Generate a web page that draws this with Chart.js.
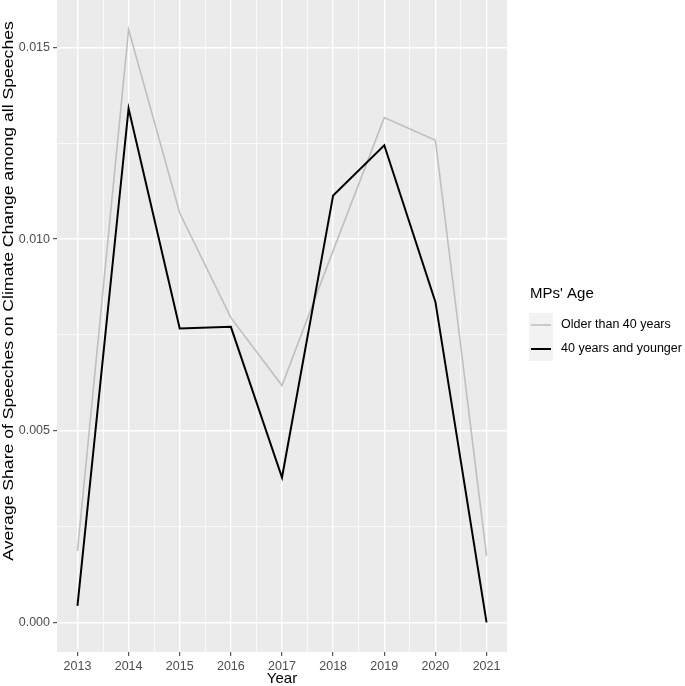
<!DOCTYPE html>
<html>
<head>
<meta charset="utf-8">
<script src="https://cdn.jsdelivr.net/npm/chart.js@4.4.1/dist/chart.umd.min.js"></script>
<style>
  html, body { margin: 0; padding: 0; background: #fff; }
  #wrap { width: 685px; height: 686px; }
</style>
</head>
<body>
<div id="wrap"><canvas id="ageChart" width="685" height="686"></canvas></div>
<script>
// Climate change speeches share by MP age group
const years = [2013, 2014, 2015, 2016, 2017, 2018, 2019, 2020, 2021];
const olderThan40 = [0.00186, 0.01547, 0.01068, 0.00795, 0.00618, 0.00970, 0.01317, 0.01258, 0.00174];
const younger40 = [0.00043, 0.01341, 0.00767, 0.00771, 0.00378, 0.01114, 0.01245, 0.00836, 0.0];
const seriesLabels = ['Older than 40 years', '40 years and younger'];
const seriesColors = ['#BFBFBF', '#000000'];
const yTickLabels = ['0.000', '0.005', '0.010', '0.015'];
const yTitle = 'Average Share of Speeches on Climate Change among all Speeches';

const FONT = "'Liberation Sans', Arial, Helvetica, sans-serif";

function isMajor(v, step) {
  return Math.abs(v / step - Math.round(v / step)) < 1e-6;
}

const panelBg = {
  id: 'panelBg',
  beforeDraw(chart) {
    const { ctx, chartArea: a } = chart;
    ctx.save();
    ctx.fillStyle = '#EBEBEB';
    ctx.fillRect(a.left, a.top, a.right - a.left, a.bottom - a.top);
    ctx.restore();
  }
};

// y title drawn by hand so it can sit a bit higher than the panel centre
const yTitlePlugin = {
  id: 'yTitlePlugin',
  afterDraw(chart) {
    const ctx = chart.ctx;
    ctx.save();
    ctx.translate(9, 291);
    ctx.rotate(-Math.PI / 2);
    ctx.scale(1.135, 1);
    ctx.font = '15.5px ' + FONT;
    ctx.fillStyle = '#000';
    ctx.textAlign = 'center';
    ctx.textBaseline = 'middle';
    ctx.fillText(yTitle, 0, 0);
    ctx.restore();
  }
};

const sideLegend = {
  id: 'sideLegend',
  afterDraw(chart) {
    const ctx = chart.ctx;
    const x0 = chart.chartArea.right + 22;
    ctx.save();
    ctx.fillStyle = '#000';
    ctx.font = '15px ' + FONT;
    ctx.textBaseline = 'alphabetic';
    ctx.fillText("MPs' Age", x0 + 1, 298);
    ctx.fillStyle = '#F2F2F2';
    ctx.fillRect(x0, 313, 24, 48);
    ctx.font = '12.5px ' + FONT;
    ctx.textBaseline = 'middle';
    seriesLabels.forEach((lab, i) => {
      const y = 325 + i * 24;
      ctx.strokeStyle = seriesColors[i];
      ctx.lineWidth = i === 0 ? 1.6 : 2;
      ctx.beginPath();
      ctx.moveTo(x0 + 2, y);
      ctx.lineTo(x0 + 22, y);
      ctx.stroke();
      ctx.fillStyle = '#000';
      ctx.fillText(lab, x0 + 32, y);
    });
    ctx.restore();
  }
};

const ctx = document.getElementById('ageChart').getContext('2d');
new Chart(ctx, {
  type: 'line',
  data: {
    datasets: [{
      label: seriesLabels[1],
      data: years.map((yr, i) => ({ x: yr, y: younger40[i] })),
      borderColor: seriesColors[1],
      borderWidth: 2,
      pointRadius: 0,
      tension: 0,
      order: 0
    }, {
      label: seriesLabels[0],
      data: years.map((yr, i) => ({ x: yr, y: olderThan40[i] })),
      borderColor: seriesColors[0],
      borderWidth: 1.6,
      pointRadius: 0,
      tension: 0,
      order: 1
    }]
  },
  options: {
    responsive: false,
    animation: false,
    layout: { padding: { left: 0, right: 178, top: 0, bottom: 0 } },
    plugins: { legend: { display: false }, tooltip: { enabled: false } },
    scales: {
      x: {
        type: 'linear',
        min: years[0] - 0.4,
        max: years[years.length - 1] + 0.4,
        afterFit(scale) { scale.height = 34; scale.paddingLeft = 0; scale.paddingRight = 0; },
        border: { display: false },
        grid: {
          color: '#FFFFFF',
          lineWidth: c => isMajor(c.tick.value, 1) ? 1.4 : 0.7,
          tickColor: c => isMajor(c.tick.value, 1) ? '#333333' : 'rgba(0,0,0,0)',
          tickLength: 4,
          tickWidth: 1
        },
        ticks: {
          stepSize: 0.5,
          includeBounds: false,
          autoSkip: false,
          maxRotation: 0,
          padding: 3,
          color: '#4D4D4D',
          font: { family: FONT, size: 12.5 },
          callback: v => isMajor(v, 1) ? String(Math.round(v)) : ''
        },
        title: {
          display: true,
          text: 'Year',
          color: '#000',
          padding: { top: 0, bottom: 0 },
          font: { family: FONT, size: 15, lineHeight: 1 }
        }
      },
      y: {
        type: 'linear',
        min: -0.000775,
        max: 0.01624,
        afterFit(scale) { scale.width = 57; scale.paddingTop = 0; scale.paddingBottom = 0; },
        border: { display: false },
        grid: {
          color: '#FFFFFF',
          lineWidth: c => isMajor(c.tick.value, 0.005) ? 1.4 : 0.7,
          tickColor: c => isMajor(c.tick.value, 0.005) ? '#333333' : 'rgba(0,0,0,0)',
          tickLength: 4,
          tickWidth: 1
        },
        ticks: {
          stepSize: 0.0025,
          includeBounds: false,
          autoSkip: false,
          padding: 3,
          color: '#4D4D4D',
          font: { family: FONT, size: 12.5 },
          callback: v => isMajor(v, 0.005) ? yTickLabels[Math.round(v / 0.005)] : ''
        },
        title: { display: false }
      }
    }
  },
  plugins: [panelBg, yTitlePlugin, sideLegend]
});
</script>
</body>
</html>
